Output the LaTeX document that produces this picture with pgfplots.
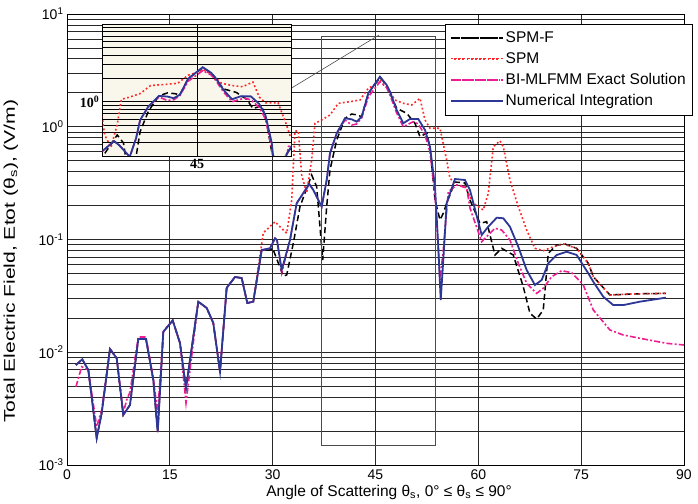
\documentclass[border=0pt]{standalone}
\usepackage{fontspec}
\setmainfont{Liberation Sans}
\newfontfamily\serifbf{Liberation Serif}
\usepackage{pgfplots}
\usepackage{pgfplotstable}
\pgfplotsset{compat=1.18}
\definecolor{spmred}{RGB}{255,40,40}
\definecolor{mlpink}{RGB}{236,30,145}
\definecolor{nivblue}{RGB}{45,55,150}
\definecolor{insetbg}{RGB}{249,247,236}
\definecolor{gridc}{RGB}{40,40,40}

\pgfplotstableread{
x y
1.31 0.0077
2.23 0.00866
3.11 0.00696
4.33 0.00173
5.06 0.00289
6.27 0.01069
7.25 0.00884
8.21 0.00278
9.19 0.00341
10.40 0.01311
11.52 0.01311
12.59 0.00567
13.23 0.00196
14.05 0.01521
15.42 0.01913
16.48 0.01208
17.36 0.00482
19.15 0.02807
20.38 0.0247
21.34 0.01817
22.32 0.00672
23.29 0.03715
24.50 0.0465
25.48 0.04556
26.30 0.02734
27.17 0.02807
28.40 0.0807
29.61 0.0807
30.00 0.0835
31.56 0.0474
32.05 0.0485
33.01 0.0925
33.98 0.1954
35.69 0.3733
36.42 0.2939
37.30 0.0658
37.88 0.1954
38.36 0.4135
39.34 0.763
40.55 1.188
41.53 1.297
42.34 1.271
42.98 1.228
43.95 1.98
45.65 2.734
46.63 2.346
47.11 1.98
48.09 1.458
49.55 1.316
50.76 1.073
51.49 0.816
52.50 0.880
52.99 0.622
53.68 0.224
54.41 0.149
54.89 0.1708
55.38 0.2095
56.59 0.3236
58.05 0.317
58.78 0.224
60.24 0.1392
61.22 0.1438
62.43 0.0729
63.40 0.0835
65.10 0.0729
66.55 0.0382
67.53 0.0222
68.51 0.0197
69.47 0.0237
70.20 0.0754
71.43 0.0894
72.64 0.0912
74.34 0.0835
76.04 0.0615
76.77 0.0468
79.20 0.0322
82.60 0.0329
87.37 0.0333
}\spmf

\pgfplotstableread{
x y
1.31 0.0077
2.23 0.00866
3.11 0.00696
4.33 0.00173
5.06 0.00289
6.27 0.01069
7.25 0.00884
8.21 0.00278
9.19 0.00341
10.40 0.01311
11.52 0.01311
12.59 0.00567
13.23 0.00196
14.05 0.01521
15.42 0.01913
16.48 0.01208
17.36 0.00482
19.15 0.02807
20.38 0.0247
21.34 0.01817
22.32 0.00672
23.29 0.03715
24.50 0.0465
25.48 0.04556
26.30 0.02734
27.17 0.02807
28.63 0.1142
30.34 0.1438
32.05 0.1135
32.78 0.224
33.26 0.917
33.74 0.917
34.23 0.3733
34.96 0.2585
35.69 0.507
36.17 1.073
37.15 1.148
38.36 1.271
39.57 1.614
41.28 1.668
42.74 1.727
43.95 2.193
45.17 2.428
45.65 2.598
46.63 2.266
47.84 1.727
49.05 1.614
50.28 1.559
51.49 1.788
52.22 1.148
52.95 0.969
54.41 0.969
55.38 0.507
55.86 0.349
56.84 0.3043
58.05 0.298
59.22 0.2108
60.72 0.1827
61.45 0.2569
62.18 0.665
63.16 0.752
63.64 0.665
64.61 0.337
65.83 0.1954
67.05 0.1214
68.26 0.0835
69.47 0.0796
70.93 0.0863
72.39 0.0912
74.34 0.0835
76.04 0.0615
76.77 0.0468
79.20 0.0322
82.60 0.0329
87.37 0.0333
}\spm

\pgfplotstableread{
x y
1.31 0.00495
2.14 0.00744
3.11 0.00696
4.33 0.00219
5.06 0.00308
6.27 0.01069
7.25 0.00884
8.21 0.00289
8.70 0.00377
9.19 0.00444
10.40 0.01366
11.52 0.01366
12.59 0.00591
13.23 0.00289
14.05 0.01521
15.42 0.01913
16.48 0.01208
17.36 0.00355
19.15 0.02807
20.38 0.0247
21.34 0.01817
22.32 0.00672
23.29 0.03715
24.50 0.0465
25.48 0.04556
26.30 0.02734
27.17 0.02807
28.40 0.0807
29.61 0.0835
30.34 0.1025
30.63 0.0990
31.32 0.0505
32.53 0.0990
33.50 0.2095
35.34 0.3106
35.93 0.2748
37.15 0.1954
37.88 0.337
38.36 0.5815
39.34 0.8747
40.55 1.148
41.53 1.036
42.26 1.058
42.98 1.196
43.95 1.836
45.65 2.509
46.63 2.207
47.11 1.912
48.09 1.324
49.05 1.0
50.51 1.109
51.24 1.058
52.22 0.845
52.95 0.597
53.68 0.248
54.41 0.0437
54.89 0.0807
55.62 0.2655
56.84 0.3043
58.30 0.2862
58.78 0.1903
60.49 0.0956
61.45 0.1096
62.43 0.1257
63.40 0.1214
64.61 0.0990
65.83 0.0615
67.05 0.0409
68.51 0.0333
69.47 0.0369
70.70 0.0468
72.16 0.0529
73.62 0.0508
75.31 0.0395
76.77 0.0237
79.20 0.01575
81.14 0.01422
83.58 0.0133
87.47 0.0120
90.00 0.0116
}\mlfmm

\pgfplotstableread{
x y
1.31 0.0077
2.23 0.00866
3.11 0.00696
4.33 0.00173
5.06 0.00289
6.27 0.01069
7.25 0.00884
8.21 0.00278
9.19 0.00341
10.40 0.01311
11.52 0.01311
12.59 0.00567
13.23 0.00196
14.05 0.01521
15.42 0.01913
16.48 0.01208
17.36 0.00482
19.15 0.02807
20.38 0.0247
21.34 0.01817
22.32 0.00672
23.29 0.03715
24.50 0.0465
25.48 0.04556
26.30 0.02734
27.17 0.02807
28.40 0.0807
29.61 0.0835
30.34 0.1025
30.63 0.0990
31.32 0.0536
32.53 0.0990
33.50 0.2095
35.34 0.3106
35.93 0.2748
37.15 0.1954
37.88 0.337
38.36 0.5815
39.34 0.8747
40.55 1.188
41.53 1.164
42.26 1.109
42.98 1.228
43.95 1.980
45.65 2.779
46.63 2.346
47.11 2.046
48.09 1.408
49.05 1.073
50.03 1.171
51.24 1.171
52.22 0.936
52.95 0.665
53.68 0.2939
54.16 0.0863
54.51 0.02906
54.89 0.0658
55.38 0.2095
56.59 0.344
58.05 0.337
58.78 0.2748
60.49 0.1096
61.45 0.1299
62.68 0.1561
63.64 0.1542
64.61 0.1299
65.83 0.0863
67.05 0.0536
68.26 0.0395
69.24 0.0437
70.20 0.0615
71.43 0.0729
72.89 0.0779
74.34 0.0729
76.04 0.0501
76.77 0.0422
78.22 0.0311
79.68 0.0262
81.14 0.0262
83.58 0.0281
87.37 0.0305
}\numint

\tikzset{
  spmfstyle/.style={black, line width=1.5pt, dash pattern=on 6pt off 3.5pt},
  spmstyle/.style={spmred, line width=1.6pt, dash pattern=on 1.8pt off 2.4pt},
  mlstyle/.style={mlpink, line width=1.6pt, dash pattern=on 6pt off 2.2pt on 2pt off 2.2pt},
  nistyle/.style={nivblue, line width=1.8pt},
}

\begin{document}
\begin{tikzpicture}
\useasboundingbox (-67pt,-38pt) rectangle (631pt,465pt);
\begin{axis}[
  at={(0pt,0pt)}, anchor=south west,
  scale only axis, width=617pt, height=451pt,
  xmin=0, xmax=90, ymode=log, ymin=1e-3, ymax=10,
  xtick={0,15,30,45,60,75,90},
  xticklabels={0,15,30,45,60,75,90},
  ytick={1e-3,1e-2,1e-1,1,10},
  yticklabels={10\textsuperscript{-3},10\textsuperscript{-2},10\textsuperscript{-1},10\textsuperscript{0},10\textsuperscript{1}},
  minor ytick={0.002,0.003,0.004,0.005,0.006,0.007,0.008,0.009,0.02,0.03,0.04,0.05,0.06,0.07,0.08,0.09,0.2,0.3,0.4,0.5,0.6,0.7,0.8,0.9,2,3,4,5,6,7,8,9},
  xmajorgrids, ymajorgrids, yminorgrids,
  major grid style={gridc, line width=0.8pt},
  minor grid style={gridc, line width=0.8pt},
  major tick length=0pt, minor tick length=0pt,
  axis line style={black, line width=0.9pt},
  tick label style={font=\fontsize{14}{16}\selectfont},
  xticklabel style={yshift=-1pt},
  xlabel={Angle of Scattering θ\textsubscript{s}, 0° ≤ θ\textsubscript{s} ≤ 90°},
  ylabel={\scalebox{1.36}[1]{Total Electric Field, Etot (θ\textsubscript{s}), (V/m)}},
  label style={font=\fontsize{15.5}{18}\selectfont},
  xlabel style={at={(axis description cs:0.522,-0.044)}, anchor=north, inner sep=0pt},
  ylabel style={at={(axis description cs:-0.0908,0.452)}, anchor=center, inner sep=0pt},
  legend style={at={(axis description cs:0.6126,0.9778)}, anchor=north west, draw=black, fill=white,
    font=\fontsize{15.5}{17}\selectfont, inner xsep=5pt, inner ysep=5.5pt, row sep=4.5pt},
  legend cell align=left,
  legend image code/.code={\path (0pt,0pt) -- (51.7pt,0pt);\draw[#1, line width=1.7pt] (3pt,0pt) -- (49pt,0pt);},
]
\addplot[spmfstyle] table[x=x,y=y] {\spmf};
\addlegendentry{SPM-F}
\addplot[spmstyle] table[x=x,y=y] {\spm};
\addlegendentry{SPM}
\addplot[mlstyle] table[x=x,y=y] {\mlfmm};
\addlegendentry{BI-MLFMM Exact Solution}
\addplot[nistyle] table[x=x,y=y] {\numint};
\addlegendentry{Numerical Integration}
\draw[black!70, line width=0.8pt] (axis cs:37.15,0.0015) rectangle (axis cs:53.68,6.29);
\draw[black!70, line width=0.6pt] (axis cs:32.77,2.207) -- (axis cs:45.5,6.5);
\end{axis}
\begin{axis}[
  at={(35.7pt,309pt)}, anchor=south west,
  scale only axis, width=189pt, height=132pt,
  xmin=34, xmax=56, ymode=log, ymin=0.2, ymax=10,
  xtick={45}, xticklabels={\serifbf\bfseries 45},
  ytick={1}, yticklabels={\serifbf\bfseries 10\textsuperscript{0}},
  minor ytick={0.3,0.4,0.5,0.6,0.7,0.8,0.9,2,3,4,5,6,7,8,9},
  xmajorgrids, ymajorgrids, yminorgrids,
  major grid style={black, line width=0.6pt},
  minor grid style={black, line width=0.6pt},
  major tick length=0pt, minor tick length=0pt,
  axis background/.style={fill=insetbg},
  axis line style={black, line width=0.9pt},
  tick label style={font=\fontsize{14}{16}\selectfont},
]
\addplot[spmfstyle] table[x=x,y=y] {\spmf};
\addplot[spmstyle] table[x=x,y=y] {\spm};
\addplot[mlstyle] table[x=x,y=y] {\mlfmm};
\addplot[nistyle] table[x=x,y=y] {\numint};
\end{axis}
\end{tikzpicture}
\end{document}
